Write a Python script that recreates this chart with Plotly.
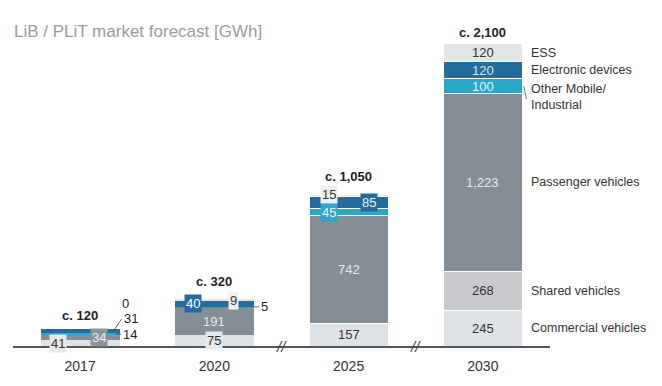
import plotly.graph_objects as go

years = ["2017", "2020", "2025", "2030"]
commercial = [41, 75, 157, 245]
shared = [0, 0, 0, 268]
passenger = [34, 191, 742, 1223]
other_mobile = [14, 5, 45, 100]
electronic = [31, 40, 85, 120]
ess = [0, 9, 15, 120]
totals = ["c. 120", "c. 320", "c. 1,050", "c. 2,100"]
series_names = ["Commercial vehicles", "Shared vehicles", "Passenger vehicles",
                "Other Mobile/<br>Industrial", "Electronic devices", "ESS"]

series = [commercial, shared, passenger, other_mobile, electronic, ess]
colors = ["#dfe3e8", "#c9cacd", "#848e97", "#2aa7c9", "#236d9c", "#e4e5e7"]
FONT = "Liberation Sans"

fig = go.Figure()
for name, vals, col in zip(series_names, series, colors):
    fig.add_bar(x=years, y=vals, name=name, marker_color=col, width=0.59,
                marker_line=dict(color="white", width=[0, 0, 1, 1]),
                showlegend=False, hoverinfo="skip")

# cumulative bottoms
bottoms = []
run = [0] * len(years)
for vals in series:
    bottoms.append(run[:])
    run = [r + v for r, v in zip(run, vals)]
tops = run

def mid(si, yi):
    return bottoms[si][yi] + series[si][yi] / 2

ann = []

def seg_label(si, yi, xshift=0, bg=None, color="#333", yshift=0):
    v = series[si][yi]
    a = dict(x=yi, y=mid(si, yi), xref="x", yref="y", text=f"{v:,}", showarrow=False,
             xshift=xshift, yshift=yshift, font=dict(family=FONT, size=13, color=color))
    if bg:
        a.update(bgcolor=bg, borderpad=1)
    ann.append(a)

LIGHT = "#e6e9ec"
BLUE = "#236d9c"
CYAN = "#2aa7c9"
GREY = "#8b959d"
PALE = "#e8e8e8"

# 2017
seg_label(0, 0, xshift=-22, bg=LIGHT)
seg_label(2, 0, xshift=19, bg=GREY, color="#eeeeee")
# 2020
seg_label(0, 1, bg=LIGHT)
seg_label(2, 1, color=PALE)
seg_label(4, 1, xshift=-21, bg=BLUE, color="#ffffff")
seg_label(5, 1, xshift=19, bg="#eeeff0")
# 2025
seg_label(0, 2)
seg_label(2, 2, color=PALE)
seg_label(3, 2, xshift=-20, yshift=-1, bg=CYAN, color="#f2f2f2")
seg_label(4, 2, xshift=20, bg=BLUE, color="#e8f0f8")
seg_label(5, 2, xshift=-20, yshift=1, bg="#eeeff0")
# 2030
seg_label(0, 3)
seg_label(1, 3)
seg_label(2, 3, color=PALE)
seg_label(3, 3, color="#e0f4fa")
seg_label(4, 3, color="#d8e6f2")
seg_label(5, 3)

# outside labels with leaders
def out_label(si, yi, text, xoff, ax, ay, showarrow=True):
    ann.append(dict(x=yi + xoff, y=mid(si, yi), xref="x", yref="y", text=text,
                    showarrow=showarrow, arrowhead=0, arrowwidth=0.8, arrowcolor="#444",
                    ax=ax, ay=ay, xanchor="left", yanchor="middle",
                    font=dict(family=FONT, size=13, color="#222")))

out_label(3, 0, "14", 0.27, 5, 0)
out_label(4, 0, "31", 0.25, 8, -12)
ann.append(dict(x=0, y=tops[0], xref="x", yref="y", text=str(ess[0]), showarrow=False,
                xshift=45, yshift=25, font=dict(family=FONT, size=13, color="#222")))
out_label(3, 1, "5", 0.295, 5, 0)

# totals
total_shift = [4, 8, 8, 2]
for i, t in enumerate(totals):
    ann.append(dict(x=i, y=tops[i], xref="x", yref="y", text=f"<b>{t}</b>", showarrow=False,
                    yanchor="bottom", yshift=total_shift[i],
                    font=dict(family=FONT, size=13, color="#222")))

# right-hand series labels
for si, name in enumerate(series_names):
    a = dict(x=3, y=mid(si, 3), xref="x", yref="y", text=name, showarrow=False,
             xanchor="left", xshift=46, align="left",
             font=dict(family=FONT, size=12.5, color="#333"))
    if si == 3:
        a.update(yanchor="top", yshift=6)
    ann.append(a)

# axis break marks
for xb in (1.5, 2.5):
    ann.append(dict(x=xb, y=0, xref="x", yref="y", text="<i>//</i>", showarrow=False,
                    yanchor="middle", font=dict(family=FONT, size=15, color="#444")))

# title
ann.append(dict(x=0, y=0.921, xref="paper", yref="paper", text="LiB / PLiT market forecast [GWh]",
                showarrow=False, xanchor="left", yanchor="middle", xshift=-1,
                font=dict(family=FONT, size=17, color="#9b9b9b")))

shapes = [dict(type="line", xref="x", yref="y", x0=3.305, x1=3.325,
               y0=mid(3, 3), y1=mid(3, 3) - 90, line=dict(color="#555", width=0.8))]

fig.update_layout(
    barmode="stack", width=662, height=386,
    margin=dict(l=13, r=112, t=4, b=40),
    paper_bgcolor="white", plot_bgcolor="white",
    annotations=ann, shapes=shapes, bargap=0.41,
    xaxis=dict(type="category", range=[-0.5, 3.5], showline=True, linecolor="#555",
               linewidth=1.5, ticks="", showgrid=False, ticklabelstandoff=6,
               tickfont=dict(family=FONT, size=14, color="#333")),
    yaxis=dict(range=[0, 2350], visible=False, showgrid=False),
)

fig.write_html("out.html", config={"displayModeBar": False},
               post_script="document.body.style.margin='0px';")
